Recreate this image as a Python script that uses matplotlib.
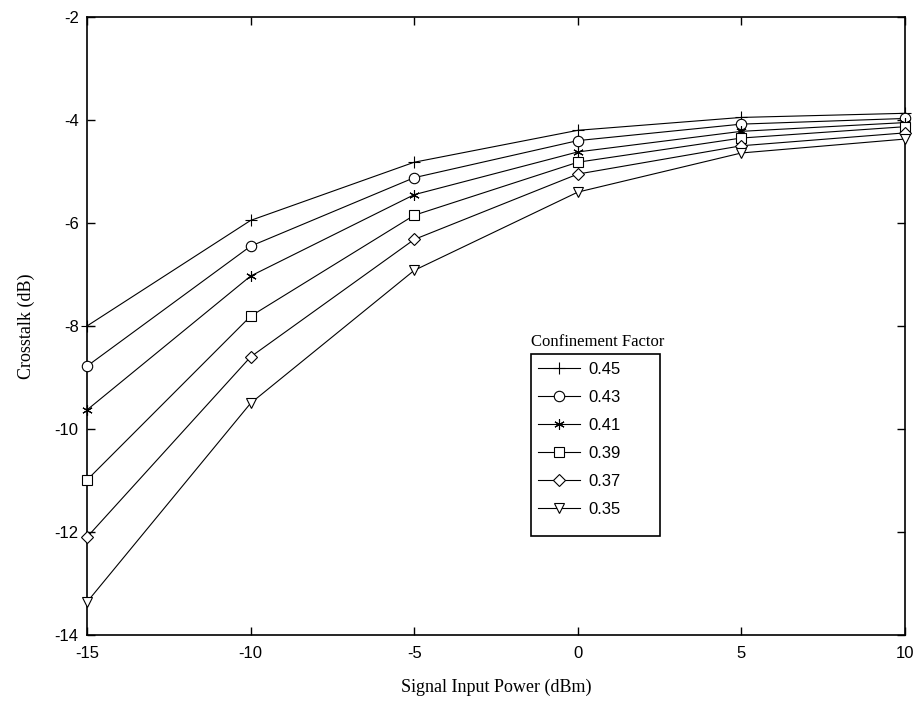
import matplotlib
matplotlib.use("Agg")
import matplotlib.pyplot as plt
from matplotlib.patches import Rectangle

power_dbm = [-15, -10, -5, 0, 5, 10]
factors = ["0.45", "0.43", "0.41", "0.39", "0.37", "0.35"]
crosstalk = {
    "0.45": [-8.00, -5.95, -4.82, -4.20, -3.95, -3.87],
    "0.43": [-8.78, -6.45, -5.12, -4.40, -4.08, -3.97],
    "0.41": [-9.63, -7.03, -5.45, -4.62, -4.22, -4.05],
    "0.39": [-10.99, -7.81, -5.85, -4.82, -4.35, -4.13],
    "0.37": [-12.10, -8.60, -6.32, -5.05, -4.50, -4.25],
    "0.35": [-13.36, -9.50, -6.92, -5.40, -4.64, -4.37],
}
markers = ["+", "o", (6, 2, 0), "s", "D", "v"]
msizes = [9, 7.5, 7.5, 7, 6.5, 7.5]

plt.rcParams["font.family"] = ["Liberation Sans", "DejaVu Sans"]
plt.rcParams["axes.unicode_minus"] = False
fig = plt.figure(figsize=(9.2, 7.09), dpi=100)
ax = fig.add_axes([87 / 920, 1 - 635 / 709, 818 / 920, 618 / 709])

handles = []
for f, m, ms in zip(factors, markers, msizes):
    (h,) = ax.plot(power_dbm, crosstalk[f], color="black", linewidth=0.8,
                   marker=m, markersize=ms, markerfacecolor="white",
                   markeredgecolor="black", markeredgewidth=0.8, label=f,
                   clip_on=False, zorder=3)
    handles.append(h)

ax.set_xlim(-15, 10)
ax.set_ylim(-14, -2)
ax.set_xticks(range(-15, 11, 5))
ax.set_yticks(range(-14, -1, 2))
ax.tick_params(direction="in", length=6, width=1, labelsize=12,
               top=True, right=True, pad=6)
ax.tick_params(axis="x", pad=8)
for s in ax.spines.values():
    s.set_linewidth(1.2)

ax.set_xlabel("Signal Input Power (dBm)", family="Liberation Serif",
              fontsize=13, labelpad=13)
ax.set_ylabel("Crosstalk (dB)", family="Liberation Serif", fontsize=13,
              labelpad=14)

# legend entries without frame, box drawn separately so it can be wider
leg = ax.legend(handles=handles, loc="upper left",
                bbox_to_anchor=(538 / 920, 1 - 362 / 709),
                bbox_transform=fig.transFigure, fontsize=12,
                frameon=False, handlelength=2.5, handletextpad=0.5,
                labelspacing=0.78, borderpad=0, borderaxespad=0)
fig.patches.append(Rectangle((531 / 920, 1 - 536 / 709), 129 / 920, 182 / 709,
                             transform=fig.transFigure, fill=False,
                             edgecolor="black", linewidth=1.2))
fig.text(598 / 920, 1 - 342 / 709, "Confinement Factor", ha="center",
         va="center", family="Liberation Serif", fontsize=12)

fig.savefig("out.png", dpi=100)
